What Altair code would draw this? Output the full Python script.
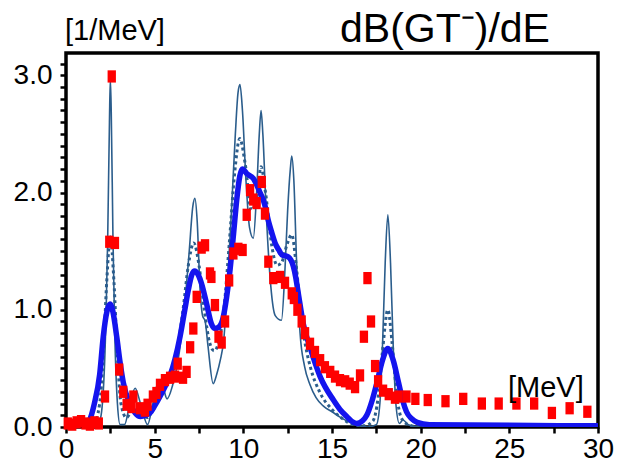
import altair as alt
import pandas as pd

# Energy axis (MeV) and strength (1/MeV)

# Narrow-width folded strength (thin line)
thin_x = [0.0, 1.0, 1.6, 1.9, 2.1, 2.25, 2.35, 2.45, 2.5, 2.55, 2.65, 2.75, 2.9, 3.05,
          3.3, 3.6, 3.9, 4.2, 4.6, 4.9, 5.2, 5.45, 5.7, 6.0, 6.4, 6.7, 6.95, 7.15, 7.27,
          7.4, 7.55, 7.7, 7.85, 8.0, 8.3, 8.5, 8.7, 8.9, 9.1, 9.35, 9.55, 9.7, 9.81,
          9.95, 10.15, 10.35, 10.56, 10.75, 10.9, 11.0, 11.1, 11.3, 11.55, 11.8, 12.15,
          12.35, 12.5, 12.65, 12.73, 12.85, 13.0, 13.2, 13.45, 13.76, 14.1, 14.5, 15.0,
          15.5, 16.0, 16.5, 17.0, 17.5, 17.7, 17.85, 18.0, 18.15, 18.3, 18.45, 18.6,
          18.8, 19.0, 19.3, 20.0, 30.0]
thin_y = [0.0, 0.0, 0.0, 0.05, 0.3, 0.9, 1.6, 2.6, 2.97, 2.7, 1.6, 0.8, 0.2, 0.02,
          0.02, 0.2, 0.33, 0.2, 0.02, 0.2, 0.38, 0.35, 0.24, 0.35, 0.65, 1.05, 1.5, 1.88, 1.95,
          1.75, 1.2, 0.95, 0.9, 0.7, 0.37, 0.45, 0.57, 0.75, 1.2, 1.9, 2.5, 2.85, 2.92,
          2.7, 2.1, 1.7, 1.61, 2.0, 2.5, 2.7, 2.5, 1.8, 1.2, 0.95, 0.91,
          1.35, 1.85, 2.2, 2.31, 2.1, 1.42, 0.8, 0.52, 0.36, 0.25, 0.18, 0.13,
          0.08, 0.04, 0.01, 0.0, 0.02, 0.2, 0.7, 1.4, 1.81, 1.4, 0.7, 0.2,
          0.03, 0.06, 0.02, 0.0, 0.0]

# Medium-width folded strength (dotted line)
dot_x = [0.0, 1.5, 1.9, 2.1, 2.3, 2.5, 2.7, 2.9, 3.1, 3.4, 3.8, 4.2, 4.6, 5.0, 5.4,
         5.8, 6.2, 6.6, 6.9, 7.2, 7.5, 7.8, 8.1, 8.35, 8.6, 8.9, 9.2, 9.5, 9.8, 10.1,
         10.45, 10.75, 11.0, 11.25, 11.6, 11.9, 12.15, 12.45, 12.73, 13.0, 13.25, 13.5,
         13.8, 14.3, 15.0, 15.6, 16.2, 16.8, 17.3, 17.6, 17.85, 18.15, 18.4, 18.65,
         18.9, 19.3, 20.0, 30.0]
dot_y = [0.0, 0.0, 0.2, 0.6, 1.25, 1.62, 1.25, 0.6, 0.2, 0.08, 0.15, 0.12, 0.08, 0.2, 0.33,
         0.4, 0.6, 1.0, 1.38, 1.57, 1.38, 1.0, 0.72, 0.65, 0.72, 1.0, 1.55, 2.15, 2.46, 2.25,
         1.85, 1.95, 2.22, 2.0, 1.55, 1.38, 1.4, 1.55, 1.64, 1.35, 0.95, 0.7,
         0.5, 0.3, 0.15, 0.07, 0.02, 0.01, 0.05, 0.25, 0.65, 1.0, 0.7, 0.28,
         0.08, 0.02, 0.0, 0.0]

# Broad folded strength (thick line)
thick_x = [0.0, 1.0, 1.3, 1.6, 1.9, 2.1, 2.3, 2.48, 2.65, 2.86, 3.05, 3.23, 3.6, 3.9,
           4.2, 4.5, 4.74, 5.0, 5.3, 5.6, 5.87, 6.15, 6.43, 6.7, 6.9, 7.1, 7.25, 7.45,
           7.65, 7.93, 8.2, 8.4, 8.6, 8.87, 9.05, 9.25, 9.45, 9.63, 9.8, 9.95, 10.2,
           10.56, 10.94, 11.2, 11.41, 11.6, 11.79, 12.0, 12.17, 12.54, 12.82, 12.95,
           13.1, 13.38, 13.76, 14.33, 15.08, 15.45, 15.83, 16.1, 16.39, 16.7, 16.96,
           17.25, 17.52, 17.85, 18.14, 18.45, 18.75, 19.0, 19.2, 19.5, 19.8, 20.5, 30.0]
thick_y = [0.01, 0.01, 0.05, 0.2, 0.45, 0.77, 0.98, 1.05, 0.98, 0.77, 0.55, 0.38, 0.2, 0.12,
           0.09, 0.1, 0.12, 0.18, 0.26, 0.35, 0.44, 0.58, 0.77, 1.0, 1.17, 1.3, 1.33, 1.3,
           1.22, 1.05, 0.88, 0.84, 0.85, 0.94, 1.1, 1.34, 1.65, 1.94, 2.14, 2.2, 2.16,
           2.12, 2.0, 1.9, 1.76, 1.66, 1.57, 1.51, 1.47, 1.45, 1.37, 1.28,
           1.14, 0.88, 0.68, 0.43, 0.23, 0.15, 0.09, 0.05, 0.03, 0.05, 0.1,
           0.22, 0.37, 0.57, 0.67, 0.57, 0.38, 0.22, 0.13, 0.07, 0.04, 0.02, 0.01]

# Measured strength distribution (red markers)
exp_x = [0.1, 0.35, 0.6, 0.85, 1.1, 1.35, 1.6, 1.85, 2.2, 2.44, 2.58, 2.76, 3.0, 3.23,
         3.42, 3.7, 3.8, 4.17, 4.45, 4.6, 4.9, 5.1, 5.3, 5.58, 5.87, 6.15, 6.3, 6.6,
         6.8, 7.0, 7.18, 7.37, 7.65, 7.84, 8.12, 8.2, 8.4, 8.6, 8.78, 8.97, 9.2, 9.44,
         9.72, 9.96, 10.19, 10.38, 10.56, 10.75, 11.04, 11.22, 11.41, 11.69, 12.07, 12.35,
         12.73, 12.85, 13.05, 13.29, 13.48, 13.76, 14.04, 14.33, 14.6, 14.9, 15.17, 15.45,
         15.74, 16.0, 16.3, 16.58, 16.8, 17.0, 17.2, 17.43, 17.6, 17.88, 18.2, 18.55,
         18.75, 19.2, 19.7, 20.4, 21.4, 22.4, 23.45, 24.4, 25.4, 26.4, 27.4, 28.4, 29.4]
exp_y = [0.03, 0.02, 0.04, 0.05, 0.03, 0.02, 0.04, 0.03, 0.26, 1.58, 2.99, 1.57, 0.49, 0.30,
         0.19, 0.17, 0.26, 0.16, 0.14, 0.19, 0.26, 0.29, 0.36, 0.40, 0.42, 0.43, 0.54, 0.42,
         0.47, 0.68, 0.84, 1.11, 1.53, 1.55, 1.31, 1.28, 1.04, 0.77, 0.72, 0.90, 1.25, 1.48,
         1.52, 1.51, 1.81, 2.02, 1.94, 1.91, 2.09, 1.82, 1.41, 1.27, 1.28, 1.23,
         1.14, 1.10, 1.0, 0.90, 0.80, 0.71, 0.64, 0.57, 0.51, 0.47, 0.43, 0.40,
         0.39, 0.37, 0.34, 0.44, 0.77, 1.27, 0.90, 0.52, 0.39, 0.31, 0.28, 0.25,
         0.26, 0.26, 0.24, 0.23, 0.22, 0.24, 0.20, 0.20, 0.20, 0.20, 0.12, 0.16, 0.13]

x_ticks = [i * 2.5 for i in range(13)]
y_ticks = [round(i * 0.1, 1) for i in range(32)]

FONT = "Liberation Sans"

x_scale = alt.Scale(domain=[0, 30], nice=False, zero=False)
y_scale = alt.Scale(domain=[0, 3.19], nice=False)

x_axis = alt.Axis(values=x_ticks, labelExpr="datum.value % 5 == 0 ? datum.value : ''",
                  tickSize=6, tickWidth=2.5, tickColor="black", domain=False, grid=False,
                  labelFont=FONT, labelFontSize=28, labelColor="black", labelPadding=2,
                  labelOverlap=False, labelFlush=False)
y_axis = alt.Axis(values=y_ticks,
                  labelExpr="datum.value % 1 == 0 ? format(datum.value, '.1f') : ''",
                  tickSize=6, tickWidth=2.5, tickColor="black", domain=False, grid=False,
                  labelFont=FONT, labelFontSize=28, labelColor="black", labelPadding=8,
                  labelOverlap=False, labelFlush=False)

thin_df = pd.DataFrame({"E": thin_x, "S": thin_y})
dot_df = pd.DataFrame({"E": dot_x, "S": dot_y})
thick_df = pd.DataFrame({"E": thick_x, "S": thick_y})
exp_df = pd.DataFrame({"E": exp_x, "S": exp_y})

X = alt.X("E:Q", scale=x_scale, axis=x_axis, title=None)
Y = alt.Y("S:Q", scale=y_scale, axis=y_axis, title=None)

thin = alt.Chart(thin_df).mark_line(
    color="#2b5d8c", strokeWidth=1.6, interpolate="monotone", clip=True
).encode(x=X, y=Y)

dotted = alt.Chart(dot_df).mark_line(
    color="#2b5d8c", strokeWidth=3, strokeDash=[3, 3], interpolate="monotone", clip=True
).encode(x=X, y=Y)

thick = alt.Chart(thick_df).mark_line(
    color="#1414ee", strokeWidth=5.5, interpolate="monotone", clip=True
).encode(x=X, y=Y)

points = alt.Chart(exp_df).mark_point(
    shape="M-0.68,-1L0.68,-1L0.68,1L-0.68,1Z", filled=True, size=150,
    color="#ff0000", opacity=1
).encode(x=X, y=Y)

title_txt = alt.Chart(pd.DataFrame({"t": ["dB(GT⁻)/dE"]})).mark_text(
    font=FONT, fontSize=41, color="black", align="center", baseline="alphabetic"
).encode(text="t:N", x=alt.value(379), y=alt.value(-11))

yunit_txt = alt.Chart(pd.DataFrame({"t": ["[1/MeV]"]})).mark_text(
    font=FONT, fontSize=29, color="black", align="left", baseline="alphabetic"
).encode(text="t:N", x=alt.value(-1), y=alt.value(-13))

xunit_txt = alt.Chart(pd.DataFrame({"t": ["[MeV]"]})).mark_text(
    font=FONT, fontSize=29, color="black", align="left", baseline="alphabetic"
).encode(text="t:N", x=alt.value(442), y=alt.value(344))

chart = alt.layer(thin, dotted, thick, points, title_txt, yunit_txt, xunit_txt).properties(
    width=532, height=374,
    padding={"left": 66, "top": 53, "right": 19, "bottom": 45},
    autosize=alt.AutoSizeParams(type="none"),
    background="white",
).configure_view(stroke="black", strokeWidth=3.5)

chart.save("out.html", embed_options={"renderer": "svg", "actions": False})
